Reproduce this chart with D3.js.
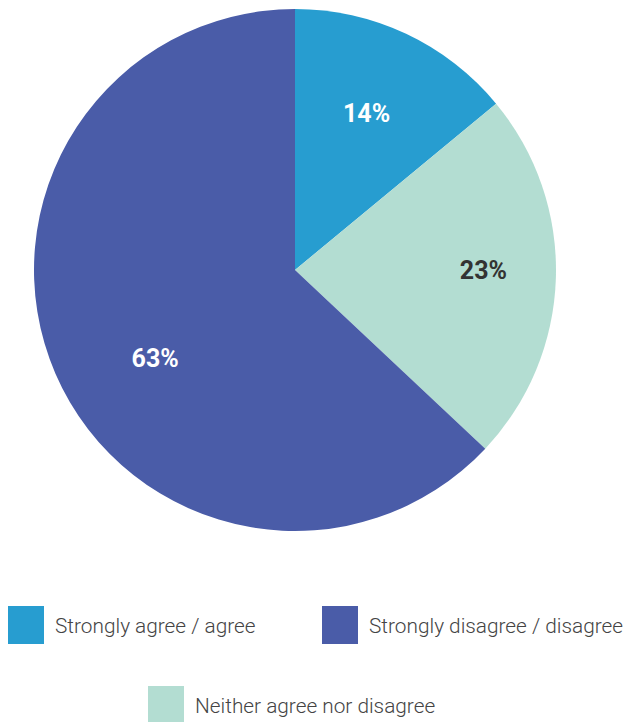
<!DOCTYPE html>
<html>
<head>
<meta charset="utf-8">
<script src="https://cdn.jsdelivr.net/npm/d3@7"></script>
<style>
  html, body { margin: 0; padding: 0; background: #fff; }
  svg { display: block; }
</style>
</head>
<body>
<svg id="chart" width="623" height="722"></svg>
<script>
// Survey response shares, in drawing order (clockwise from 12 o'clock)
const categories = ["Strongly agree / agree", "Neither agree nor disagree", "Strongly disagree / disagree"];
const values = [14, 23, 63];
const colors = ["#279dd0", "#b3ddd2", "#4a5ca8"];
const labelColors = ["#ffffff", "#333333", "#ffffff"];

// Legend order as laid out under the pie
const legendOrder = ["Strongly agree / agree", "Strongly disagree / disagree", "Neither agree nor disagree"];

const svg = d3.select("#chart");
const cx = 295, cy = 270, R = 261;

const color = d3.scaleOrdinal().domain(categories).range(colors);
const labelColor = d3.scaleOrdinal().domain(categories).range(labelColors);

const pie = d3.pie().sort(null).value(d => d.value);
const data = categories.map((c, i) => ({ name: c, value: values[i] }));
const arcs = pie(data);

const arc = d3.arc().innerRadius(0).outerRadius(R);
const labelArc = d3.arc().innerRadius(R * 0.68).outerRadius(R * 0.68);

// Small per-label nudges so the value text sits comfortably inside each slice
const labelNudge = [[-4, 4], [11, -5], [23, 18]];

const g = svg.append("g").attr("transform", `translate(${cx},${cy})`);

g.selectAll("path.slice")
  .data(arcs)
  .join("path")
  .attr("class", "slice")
  .attr("d", arc)
  .attr("fill", d => color(d.data.name));

g.selectAll("text.value")
  .data(arcs)
  .join("text")
  .attr("class", "value")
  .attr("transform", (d, i) => {
    const [x, y] = labelArc.centroid(d);
    return `translate(${x + labelNudge[i][0]},${y + labelNudge[i][1]})`;
  })
  .attr("text-anchor", "middle")
  .attr("dominant-baseline", "central")
  .attr("font-family", "Roboto, 'Noto Sans', sans-serif")
  .attr("font-weight", 700)
  .attr("font-size", 25)
  .attr("fill", d => labelColor(d.data.name))
  .text(d => d.data.value + "%");

// Legend: two items on the first row, one centred below
const legendPos = [
  { x: 8, y: 606 },
  { x: 322, y: 606 },
  { x: 148, y: 686 }
];

const legend = svg.selectAll("g.legend")
  .data(legendOrder)
  .join("g")
  .attr("class", "legend")
  .attr("transform", (d, i) => `translate(${legendPos[i].x},${legendPos[i].y})`);

legend.append("rect")
  .attr("width", 36)
  .attr("height", 38)
  .attr("fill", d => color(d));

legend.append("text")
  .attr("x", 47)
  .attr("y", 20)
  .attr("dominant-baseline", "central")
  .attr("font-family", "Roboto, 'Noto Sans', sans-serif")
  .attr("font-weight", 300)
  .attr("font-size", 20.8)
  .attr("fill", "#444")
  .text(d => d);
</script>
</body>
</html>
